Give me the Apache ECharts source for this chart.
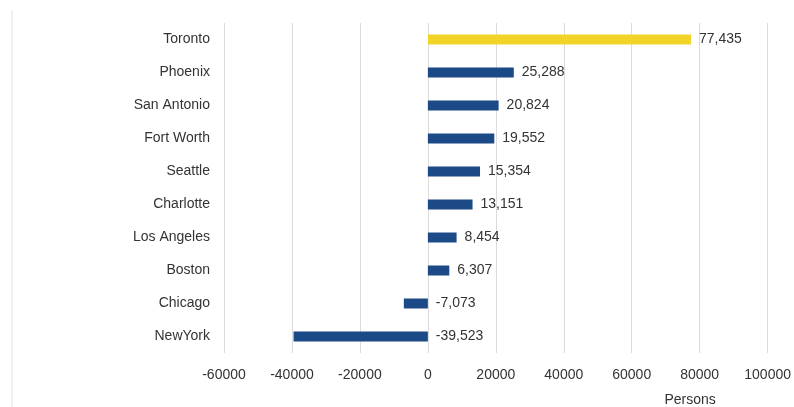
<!DOCTYPE html>
<html>
<head>
<meta charset="utf-8">
<script src="https://cdn.jsdelivr.net/npm/echarts@6/dist/echarts.min.js"></script>
<style>
  html, body { margin: 0; padding: 0; background: #fff; }
  #chart { width: 794px; height: 407px; }
</style>
</head>
<body>
<div id="chart"></div>
<script>
const cities = ['NewYork', 'Chicago', 'Boston', 'Los Angeles', 'Charlotte', 'Seattle', 'Fort Worth', 'San Antonio', 'Phoenix', 'Toronto']
const persons = [-39523, -7073, 6307, 8454, 13151, 15354, 19552, 20824, 25288, 77435]
const highlight = 'Toronto'

const font = '"Liberation Sans", Arial, sans-serif'

const myChart = echarts.init(document.getElementById('chart'), null, { renderer: 'canvas' })

const barData = persons.map((v, i) => ({
  value: v,
  itemStyle: { color: cities[i] === highlight ? '#f2d327' : '#1b4a86' },
}))

myChart.setOption({
  animation: false,
  grid: { left: 224, right: 21, top: 23, bottom: 54, containLabel: false },
  graphic: [
    { type: 'line', shape: { x1: 12, y1: 10, x2: 12, y2: 407 }, style: { stroke: '#e2e2e2', lineWidth: 1 } },
  ],
  xAxis: {
    type: 'value',
    min: -60000,
    max: 100000,
    interval: 20000,
    name: 'Persons',
    nameLocation: 'end',
    nameGap: 0,
    nameTextStyle: { fontFamily: font, fontSize: 14, color: '#333', align: 'center', verticalAlign: 'top', padding: [40, 0, 0, -155] },
    axisLine: { show: false },
    axisTick: { show: false },
    axisLabel: { fontFamily: font, fontSize: 14, color: '#333', margin: 15, formatter: v => String(v) },
    splitLine: { lineStyle: { color: '#dcdcdc' } },
  },
  yAxis: {
    type: 'category',
    data: cities,
    axisLine: { show: false },
    axisTick: { show: false },
    axisLabel: { fontFamily: font, fontSize: 14, color: '#333', margin: 14 },
  },
  series: [
    {
      type: 'bar',
      data: barData,
      barWidth: 10,
      label: {
        show: true,
        position: 'right',
        distance: 8,
        fontFamily: font,
        fontSize: 14,
        color: '#333',
        formatter: p => p.value.toLocaleString('en-US'),
      },
    },
  ],
})
</script>
</body>
</html>
